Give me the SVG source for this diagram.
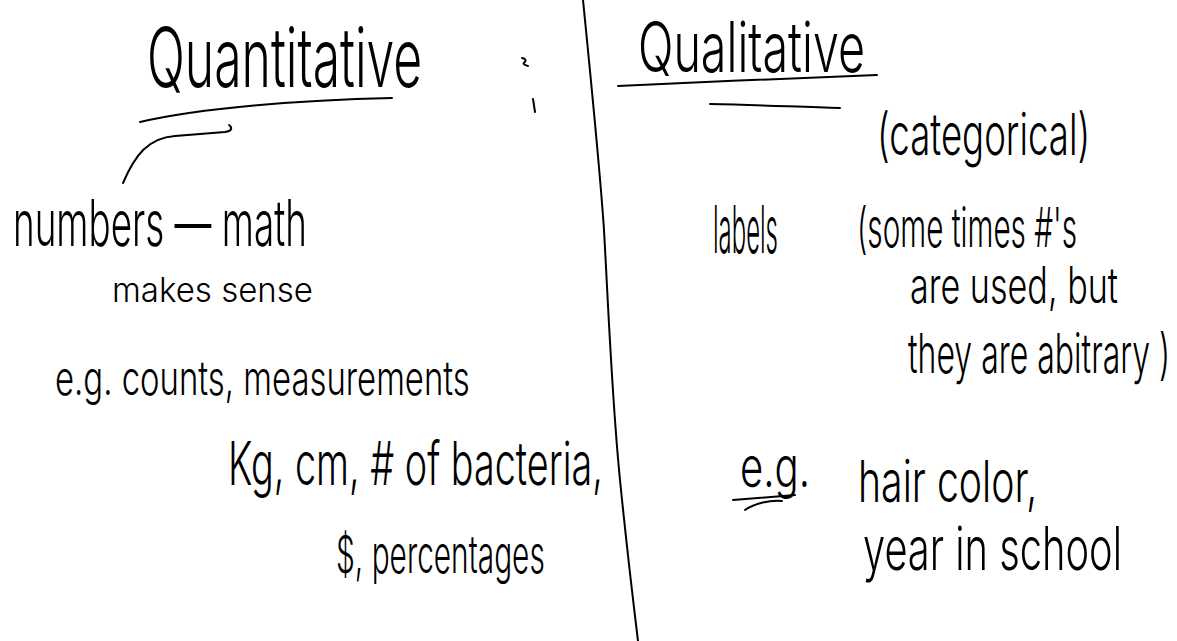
<svg xmlns="http://www.w3.org/2000/svg" width="1177" height="641" viewBox="0 0 1177 641">
<style>
.h{font-family:"Inter","Lato","Liberation Sans",sans-serif;font-weight:300;fill:#000}
.s{fill:none;stroke:#000;stroke-width:2;stroke-linecap:round;stroke-linejoin:round}
</style>
<rect width="1177" height="641" fill="#fff"/>
<g id="quantitative">
<text class="h" transform="translate(147,87) scale(0.62,1)" font-size="82" textLength="444" lengthAdjust="spacingAndGlyphs">Quantitative</text>
<path class="s" d="M140,122 C200,108 300,100 392,98"/>
<path class="s" d="M522,58 q5,1 3,4 q-4,2 3,4 M533,99 L535,112"/>
</g>
<g id="numbers">
<text class="h" transform="translate(13,246) scale(0.59,1)" font-size="64" textLength="498" lengthAdjust="spacingAndGlyphs">numbers — math</text>
<text class="h" x="112" y="302" font-size="34" textLength="201" lengthAdjust="spacingAndGlyphs">makes sense</text>
</g>
<g id="examples-left">
<text class="h" transform="translate(55,395) scale(0.72,1)" font-size="48" textLength="576" lengthAdjust="spacingAndGlyphs">e.g. counts, measurements</text>
<text class="h" transform="translate(228,485) scale(0.63,1)" font-size="60" textLength="595" lengthAdjust="spacingAndGlyphs">Kg, cm, # of bacteria,</text>
<text class="h" transform="translate(336,573) scale(0.6,1)" font-size="52" textLength="348" lengthAdjust="spacingAndGlyphs">$, percentages</text>
</g>
<g id="qualitative">
<text class="h" transform="translate(638,72) scale(0.69,1)" font-size="70" textLength="329" lengthAdjust="spacingAndGlyphs">Qualitative</text>
<path class="s" d="M618,86 C700,82 800,78 877,75 M710,104 C760,105 800,107 840,108"/>
<text class="h" transform="translate(877,155) scale(0.66,1)" font-size="58" textLength="323" lengthAdjust="spacingAndGlyphs">(categorical)</text>
</g>
<g id="labels">
<text class="h" transform="translate(713,253) scale(0.38,1)" font-size="66" textLength="171" lengthAdjust="spacingAndGlyphs">labels</text>
<text class="h" transform="translate(857,247) scale(0.57,1)" font-size="55" textLength="386" lengthAdjust="spacingAndGlyphs">(some times #'s</text>
<text class="h" transform="translate(910,303) scale(0.71,1)" font-size="50" textLength="293" lengthAdjust="spacingAndGlyphs">are used, but</text>
<text class="h" transform="translate(908,373) scale(0.6,1)" font-size="55" textLength="437" lengthAdjust="spacingAndGlyphs">they are abitrary )</text>
</g>
<g id="examples-right">
<text class="h" transform="translate(740,487) scale(0.77,1)" font-size="56" textLength="91" lengthAdjust="spacingAndGlyphs">e.g.</text>
<path class="s" d="M733,500 L795,495 M745,510 C755,503 770,500 782,501"/>
<text class="h" transform="translate(858,502) scale(0.7,1)" font-size="58" textLength="256" lengthAdjust="spacingAndGlyphs">hair color,</text>
<text class="h" transform="translate(863,570) scale(0.7,1)" font-size="60" textLength="370" lengthAdjust="spacingAndGlyphs">year in school</text>
</g>
<g id="connectors">
<path class="s" d="M123,183 C135,155 148,138 175,136 L225,132 C233,131 232,127 229,125"/>
<path class="s" d="M583,0 C592,90 600,170 604,230 C609,320 612,400 620,480 C627,550 633,600 638,641"/>
</g>
</svg>
